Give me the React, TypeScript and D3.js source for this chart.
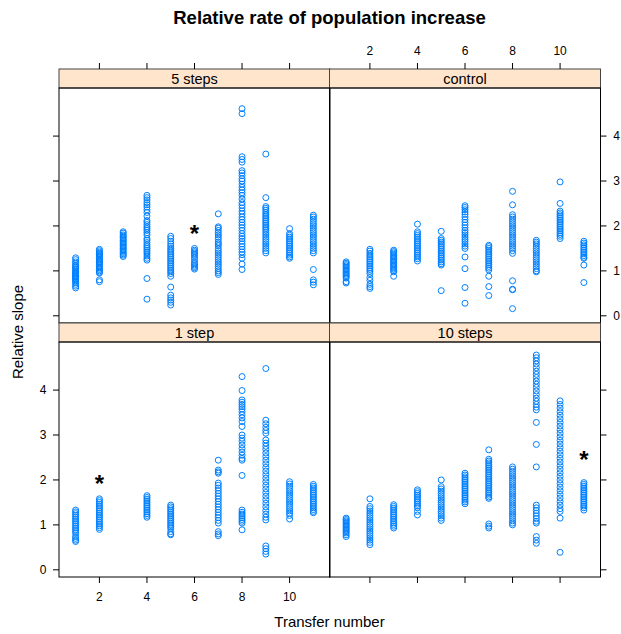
import React from 'react';
import * as d3 from 'd3';

// transfer numbers on the x axis
const transfers = [1, 2, 3, 4, 5, 6, 7, 8, 9, 10, 11];
const xTicks = [2, 4, 6, 8, 10];
const yTicks = [0, 1, 2, 3, 4];

// relative slope values, one list per transfer (index 0 = transfer 1)
const steps5: number[][] = [
  [1.29, 1.25, 1.2, 1.16, 1.12, 1.08, 1.05, 1.02, 0.99, 0.96, 0.93, 0.9, 0.88, 0.85, 0.82, 0.8, 0.77, 0.74, 0.7, 0.66, 0.62, 1.1, 0.95, 0.87],
  [1.48, 1.45, 1.42, 1.39, 1.36, 1.33, 1.3, 1.27, 1.24, 1.21, 1.18, 1.15, 1.12, 1.09, 1.06, 1.03, 1.0, 0.97, 0.95, 0.8, 0.76, 1.38, 1.2],
  [1.87, 1.84, 1.8, 1.77, 1.74, 1.71, 1.68, 1.65, 1.62, 1.59, 1.56, 1.53, 1.5, 1.47, 1.44, 1.41, 1.38, 1.35, 1.32],
  [2.68, 2.63, 2.58, 2.52, 2.47, 2.42, 2.36, 2.3, 2.22, 2.12, 2.08, 2.03, 1.98, 1.94, 1.9, 1.85, 1.8, 1.72, 1.68, 1.63, 1.58, 1.54, 1.5, 1.46, 1.42, 1.38, 1.33, 1.28, 1.24, 0.83, 0.37],
  [1.77, 1.72, 1.66, 1.6, 1.55, 1.5, 1.46, 1.42, 1.38, 1.34, 1.3, 1.26, 1.22, 1.18, 1.14, 1.1, 1.06, 1.02, 0.98, 0.94, 0.88, 0.64, 0.46, 0.4, 0.35, 0.3, 0.24],
  [1.5, 1.46, 1.43, 1.4, 1.37, 1.34, 1.3, 1.25, 1.19, 1.16, 1.13, 1.1, 1.07, 1.04],
  [2.27, 1.98, 1.95, 1.9, 1.85, 1.8, 1.75, 1.7, 1.64, 1.6, 1.56, 1.5, 1.45, 1.4, 1.35, 1.3, 1.25, 1.2, 1.15, 1.1, 1.05, 1.0, 0.96, 0.92],
  [4.61, 4.5, 3.54, 3.48, 3.42, 3.23, 3.18, 3.12, 3.05, 3.0, 2.93, 2.86, 2.8, 2.74, 2.68, 2.6, 2.52, 2.46, 2.4, 2.33, 2.27, 2.2, 2.14, 2.08, 2.02, 1.96, 1.9, 1.83, 1.77, 1.72, 1.66, 1.6, 1.54, 1.48, 1.42, 1.36, 1.28, 1.15, 1.03],
  [3.6, 2.63, 2.43, 2.39, 2.35, 2.3, 2.26, 2.22, 2.18, 2.14, 2.1, 2.06, 2.02, 1.98, 1.94, 1.9, 1.85, 1.8, 1.75, 1.7, 1.65, 1.6, 1.55, 1.5, 1.45, 1.4],
  [1.94, 1.83, 1.79, 1.75, 1.71, 1.67, 1.63, 1.59, 1.55, 1.51, 1.47, 1.43, 1.39, 1.35, 1.31, 1.28],
  [2.24, 2.2, 2.15, 2.1, 2.05, 2.0, 1.95, 1.9, 1.85, 1.8, 1.75, 1.7, 1.65, 1.6, 1.55, 1.5, 1.45, 1.4, 1.03, 0.8, 0.75, 0.69],
];

const control: number[][] = [
  [1.2, 1.17, 1.14, 1.11, 1.08, 1.05, 1.02, 0.99, 0.96, 0.93, 0.9, 0.87, 0.84, 0.76, 0.73],
  [1.48, 1.44, 1.39, 1.35, 1.31, 1.27, 1.23, 1.19, 1.15, 1.11, 1.07, 1.03, 0.99, 0.94, 0.85, 0.79, 0.7, 0.65, 0.61],
  [1.46, 1.43, 1.4, 1.37, 1.34, 1.31, 1.28, 1.25, 1.22, 1.19, 1.16, 1.13, 1.1, 1.07, 1.04, 1.01, 0.98, 0.88],
  [2.04, 1.87, 1.83, 1.79, 1.75, 1.71, 1.67, 1.63, 1.59, 1.55, 1.51, 1.47, 1.43, 1.39, 1.35, 1.31, 1.27, 1.22],
  [1.88, 1.72, 1.68, 1.64, 1.6, 1.56, 1.52, 1.48, 1.44, 1.4, 1.36, 1.32, 1.28, 1.24, 1.2, 1.16, 1.13, 0.56],
  [2.45, 2.41, 2.36, 2.31, 2.26, 2.2, 2.14, 2.08, 2.02, 1.96, 1.9, 1.85, 1.8, 1.75, 1.7, 1.65, 1.6, 1.55, 1.5, 1.31, 1.05, 0.63, 0.28],
  [1.57, 1.54, 1.5, 1.46, 1.42, 1.38, 1.34, 1.3, 1.26, 1.22, 1.18, 1.14, 1.1, 1.06, 1.02, 0.88, 0.65, 0.45],
  [2.77, 2.47, 2.25, 2.2, 2.15, 2.1, 2.05, 2.0, 1.95, 1.9, 1.85, 1.8, 1.75, 1.7, 1.65, 1.6, 1.55, 1.5, 1.45, 1.39, 0.78, 0.59, 0.58, 0.16],
  [1.68, 1.64, 1.6, 1.55, 1.5, 1.45, 1.4, 1.35, 1.3, 1.25, 1.2, 1.15, 1.1, 1.05, 1.0, 0.98],
  [2.98, 2.5, 2.33, 2.29, 2.25, 2.21, 2.17, 2.13, 2.09, 2.05, 2.01, 1.97, 1.93, 1.89, 1.85, 1.81, 1.77, 1.72],
  [1.66, 1.62, 1.58, 1.54, 1.5, 1.46, 1.42, 1.38, 1.34, 1.3, 1.28, 1.13, 0.74],
];

const step1: number[][] = [
  [1.33, 1.29, 1.25, 1.21, 1.17, 1.13, 1.09, 1.05, 1.01, 0.97, 0.93, 0.89, 0.85, 0.81, 0.74, 0.7, 0.66, 0.63],
  [1.58, 1.54, 1.5, 1.46, 1.42, 1.38, 1.34, 1.3, 1.26, 1.22, 1.18, 1.14, 1.1, 1.06, 1.02, 0.98, 0.94, 0.9],
  [],
  [1.65, 1.61, 1.57, 1.53, 1.49, 1.45, 1.41, 1.37, 1.33, 1.29, 1.25, 1.21, 1.17],
  [1.44, 1.4, 1.36, 1.32, 1.28, 1.24, 1.2, 1.16, 1.12, 1.08, 1.04, 1.0, 0.96, 0.92, 0.85, 0.8, 0.78],
  [],
  [2.44, 2.22, 2.18, 2.15, 1.93, 1.88, 1.82, 1.76, 1.7, 1.64, 1.58, 1.52, 1.46, 1.4, 1.34, 1.28, 1.22, 1.16, 1.1, 1.04, 0.85, 0.8, 0.76],
  [4.3, 3.99, 3.78, 3.73, 3.68, 3.63, 3.58, 3.52, 3.45, 3.38, 3.3, 3.19, 3.0, 2.93, 2.86, 2.78, 2.7, 2.62, 2.55, 2.48, 2.44, 2.1, 1.33, 1.28, 1.24, 1.2, 1.16, 1.12, 1.08, 1.04, 0.89],
  [4.48, 3.33, 3.25, 3.17, 3.1, 3.04, 2.89, 2.82, 2.75, 2.68, 2.6, 2.52, 2.44, 2.36, 2.28, 2.2, 2.12, 2.04, 1.96, 1.88, 1.8, 1.72, 1.64, 1.56, 1.48, 1.4, 1.32, 1.24, 1.17, 1.11, 0.53, 0.47, 0.41, 0.35],
  [1.96, 1.91, 1.86, 1.81, 1.76, 1.71, 1.66, 1.61, 1.56, 1.51, 1.46, 1.41, 1.36, 1.31, 1.26, 1.21, 1.13],
  [1.9, 1.86, 1.82, 1.78, 1.74, 1.7, 1.66, 1.62, 1.58, 1.54, 1.5, 1.46, 1.42, 1.38, 1.34, 1.3, 1.27],
];

const steps10: number[][] = [
  [1.15, 1.12, 1.09, 1.06, 1.03, 1.0, 0.97, 0.94, 0.91, 0.88, 0.85, 0.82, 0.78, 0.74],
  [1.58, 1.41, 1.36, 1.31, 1.26, 1.21, 1.16, 1.11, 1.06, 1.01, 0.96, 0.91, 0.86, 0.81, 0.76, 0.71, 0.66, 0.61, 0.56],
  [1.45, 1.41, 1.37, 1.33, 1.29, 1.25, 1.21, 1.17, 1.13, 1.09, 1.05, 1.01, 0.97, 0.93],
  [1.78, 1.74, 1.7, 1.66, 1.62, 1.58, 1.54, 1.5, 1.46, 1.42, 1.38, 1.3, 1.22],
  [2.0, 1.85, 1.8, 1.75, 1.7, 1.65, 1.6, 1.55, 1.5, 1.45, 1.4, 1.35, 1.3, 1.25, 1.2, 1.15, 1.1],
  [2.15, 2.11, 2.07, 2.03, 1.99, 1.95, 1.91, 1.87, 1.83, 1.79, 1.75, 1.71, 1.67, 1.63, 1.59, 1.55, 1.51, 1.47],
  [2.67, 2.46, 2.42, 2.38, 2.34, 2.3, 2.26, 2.22, 2.18, 2.14, 2.1, 2.06, 2.02, 1.98, 1.94, 1.9, 1.86, 1.82, 1.78, 1.74, 1.7, 1.66, 1.62, 1.59, 1.02, 0.97, 0.93],
  [2.29, 2.24, 2.19, 2.14, 2.09, 2.04, 1.99, 1.94, 1.89, 1.84, 1.79, 1.74, 1.69, 1.64, 1.59, 1.54, 1.49, 1.44, 1.39, 1.34, 1.29, 1.24, 1.19, 1.14, 1.09, 1.04, 1.0],
  [4.78, 4.72, 4.65, 4.58, 4.5, 4.42, 4.35, 4.28, 4.2, 4.13, 4.06, 3.98, 3.9, 3.82, 3.75, 3.68, 3.62, 3.56, 3.28, 2.79, 2.29, 1.44, 1.38, 1.32, 1.26, 1.2, 1.14, 1.08, 1.04, 0.74, 0.66, 0.59],
  [3.76, 3.68, 3.6, 3.52, 3.44, 3.36, 3.28, 3.2, 3.12, 3.04, 2.96, 2.88, 2.8, 2.72, 2.64, 2.56, 2.48, 2.4, 2.32, 2.24, 2.16, 2.08, 2.0, 1.92, 1.84, 1.76, 1.68, 1.6, 1.52, 1.44, 1.36, 1.3, 1.15, 0.39],
  [1.94, 1.9, 1.86, 1.82, 1.78, 1.74, 1.7, 1.66, 1.62, 1.58, 1.54, 1.5, 1.46, 1.42, 1.38, 1.33],
];

const panelNames = ['5 steps', 'control', '1 step', '10 steps'];
const panelData = [steps5, control, step1, steps10];
// significance marks: [transfer, slope] or null
const marks: ([number, number] | null)[] = [[6, 1.94], null, [2, 2.01], [11, 2.56]];

const W = 621;
const H = 634;
const FONT = '"Liberation Sans", Arial, Helvetica, sans-serif';
const colLeft = [59, 329.5];
const panelW = 271;
const stripTop = [69, 323];
const stripH = 19;
const plotH = 235;
const tick = 6;

const xDomain: [number, number] = [0.3, 11.7];
const yDomain: [number, number] = [-0.16, 5.07];

function Panel({ idx }: { idx: number }) {
  const col = idx % 2;
  const row = Math.floor(idx / 2);
  const left = colLeft[col];
  const right = left + panelW;
  const top = stripTop[row] + stripH;
  const bottom = top + plotH;
  const x = d3.scaleLinear().domain(xDomain).range([left, right]);
  const y = d3.scaleLinear().domain(yDomain).range([bottom, top]);
  const data = panelData[idx];
  const mark = marks[idx];

  const pts: { t: number; v: number }[] = [];
  data.forEach((vals, i) => vals.forEach(v => pts.push({ t: transfers[i], v })));

  return (
    <g>
      <rect x={left} y={stripTop[row]} width={panelW} height={stripH} fill="#ffe5cc" stroke="#444" strokeWidth={1} />
      <text x={(left + right) / 2} y={stripTop[row] + stripH / 2} dy="0.36em" textAnchor="middle" fontSize={14.5} fontFamily={FONT}>
        {panelNames[idx]}
      </text>
      {pts.map((p, i) => (
        <circle key={i} cx={x(p.t)} cy={y(p.v)} r={3} fill="none" stroke="#0080ff" strokeWidth={1} />
      ))}
      {mark && (
        <text x={x(mark[0])} y={y(mark[1])} dy={13} textAnchor="middle" fontSize={24} fontWeight="bold" fontFamily={FONT}>*</text>
      )}
      <rect x={left} y={top} width={panelW} height={plotH} fill="none" stroke="#000" strokeWidth={1} />

      {/* y ticks: left column on left side, right column on right side */}
      {yTicks.map(t => (
        <g key={'y' + t}>
          {col === 0 ? (
            <line x1={left - tick} x2={left} y1={y(t)} y2={y(t)} stroke="#000" />
          ) : (
            <line x1={right} x2={right + tick} y1={y(t)} y2={y(t)} stroke="#000" />
          )}
          {col === 0 && row === 1 && (
            <text x={left - 16} y={y(t)} dy="0.35em" textAnchor="middle" fontSize={12} fontFamily={FONT}>{t}</text>
          )}
          {col === 1 && row === 0 && (
            <text x={right + 16} y={y(t)} dy="0.35em" textAnchor="middle" fontSize={12} fontFamily={FONT}>{t}</text>
          )}
        </g>
      ))}

      {/* x ticks: top row on top, bottom row on bottom */}
      {xTicks.map(t => (
        <g key={'x' + t}>
          {row === 0 ? (
            <line x1={x(t)} x2={x(t)} y1={stripTop[row] - tick} y2={stripTop[row]} stroke="#000" />
          ) : (
            <line x1={x(t)} x2={x(t)} y1={bottom} y2={bottom + tick} stroke="#000" />
          )}
          {row === 0 && col === 1 && (
            <text x={x(t)} y={51} dy="0.35em" textAnchor="middle" fontSize={12} fontFamily={FONT}>{t}</text>
          )}
          {row === 1 && col === 0 && (
            <text x={x(t)} y={597} dy="0.35em" textAnchor="middle" fontSize={12} fontFamily={FONT}>{t}</text>
          )}
        </g>
      ))}
    </g>
  );
}

export default function App() {
  return (
    <div style={{ position: 'absolute', left: 0, top: 0 }}>
      <svg width={W} height={H} style={{ display: 'block', background: '#fff' }}>
        <text x={329.5} y={18} dy="0.35em" textAnchor="middle" fontSize={18.5} fontWeight="bold" fontFamily={FONT}>
          Relative rate of population increase
        </text>
        {panelNames.map((_, i) => <Panel key={i} idx={i} />)}
        <text x={329.5} y={622} dy="0.35em" textAnchor="middle" fontSize={15} fontFamily={FONT}>Transfer number</text>
        <text transform="translate(18,332) rotate(-90)" dy="0.35em" textAnchor="middle" fontSize={15} fontFamily={FONT}>Relative slope</text>
      </svg>
    </div>
  );
}
